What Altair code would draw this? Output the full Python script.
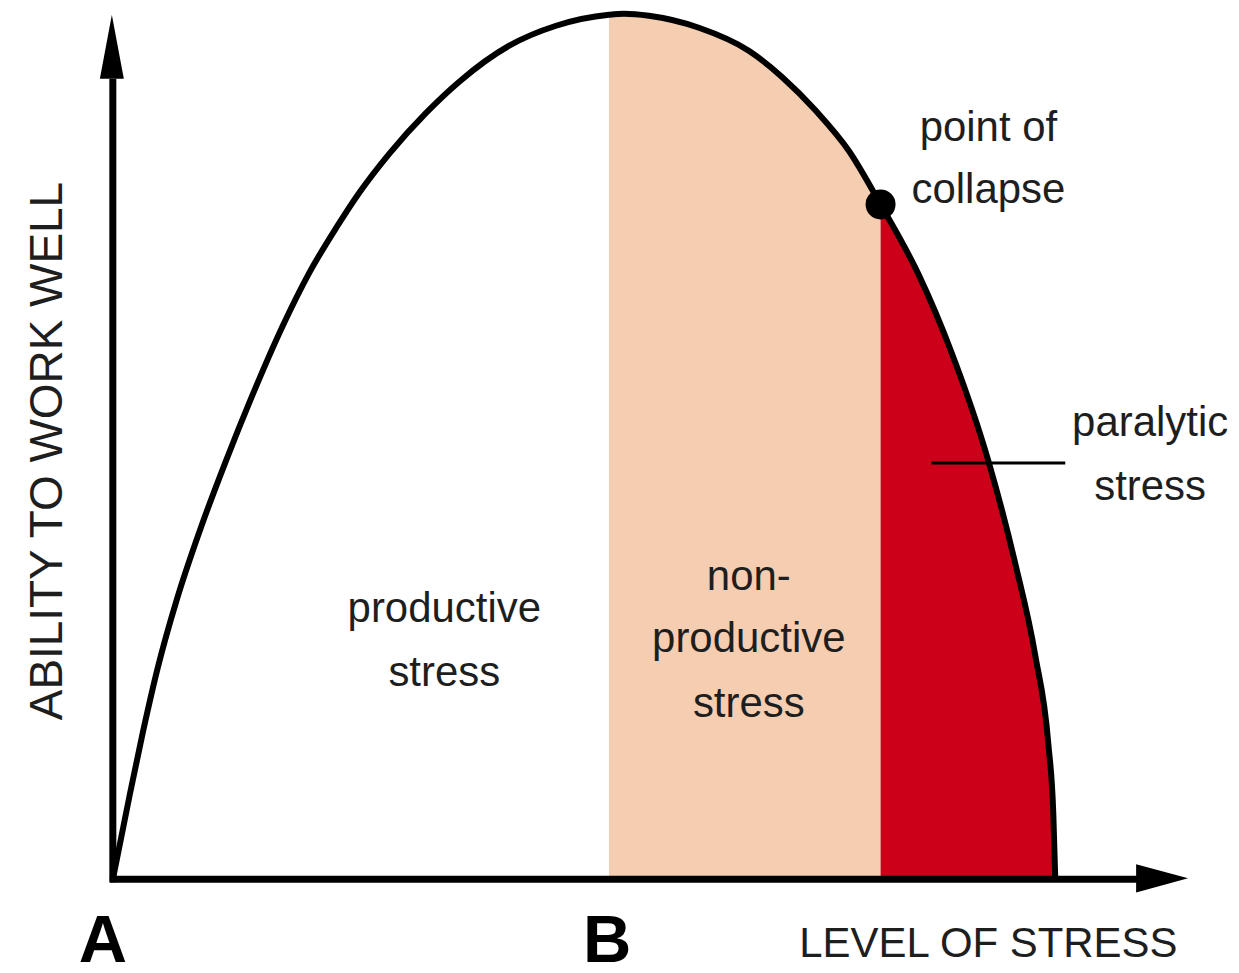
import altair as alt
import pandas as pd

# ---- curve (stress level vs ability to work well) ----
stress = [0, 17, 30, 45, 64, 87, 114, 139, 170, 197, 224, 247, 277, 314, 347, 397, 444,
          497, 512, 537, 587, 637, 670, 704, 737, 769, 807, 840, 877, 904, 924, 937, 942, 944]
ability = [0, 85, 147, 212, 280, 349, 421, 483, 554, 608, 653, 688, 727, 768, 799, 835, 855,
           866, 867, 865, 853, 830, 804, 770, 730, 676, 606, 528, 419, 316, 224, 136, 66, 0]

B_STRESS = 497          # start of non-productive stress
COLLAPSE_STRESS = 769   # point of collapse
COLLAPSE_ABILITY = 676
END_STRESS = 944
Y_AXIS_TOP = 802
X_AXIS_END = 1027
Y_ARROW_TIP = 866
X_ARROW_TIP = 1077

curve = pd.DataFrame({"stress": stress, "ability": ability})
peach = curve[(curve.stress >= B_STRESS) & (curve.stress <= COLLAPSE_STRESS)]
red = curve[(curve.stress >= COLLAPSE_STRESS) & (curve.stress <= END_STRESS)]

xs = alt.Scale(domain=[-105, 1120], nice=False, zero=False)
ys = alt.Scale(domain=[-88, 872], nice=False, zero=False)

def X(f="stress"):
    return alt.X(f"{f}:Q", scale=xs, axis=None)

def Y(f="ability"):
    return alt.Y(f"{f}:Q", scale=ys, axis=None)

peach_area = alt.Chart(peach).mark_area(color="#F5CDB0", interpolate="monotone").encode(
    x=X(), y=Y(), y2=alt.datum(0))
red_area = alt.Chart(red).mark_area(color="#CC0018", interpolate="monotone").encode(
    x=X(), y=Y(), y2=alt.datum(0))

line = alt.Chart(curve).mark_line(color="black", strokeWidth=6, interpolate="monotone").encode(
    x=X(), y=Y())

axes_df = pd.DataFrame({
    "x": [0, -3], "x2": [0, X_AXIS_END], "y": [-3, 0], "y2": [Y_AXIS_TOP, 0]})
axes = alt.Chart(axes_df).mark_rule(color="black", strokeWidth=7).encode(
    x=X("x"), x2="x2:Q", y=Y("y"), y2="y2:Q")

up_arrow = alt.Chart(pd.DataFrame({"x": [-1], "y": [Y_ARROW_TIP - 32]})).mark_point(
    shape="M0,-1L0.375,1L-0.375,1Z", filled=True, color="black", opacity=1,
    size=64 * 64, strokeWidth=0).encode(x=X("x"), y=Y("y"))
right_arrow = alt.Chart(pd.DataFrame({"x": [X_ARROW_TIP - 26], "y": [1]})).mark_point(
    shape="M1,0L-1,0.54L-1,-0.54Z", filled=True, color="black", opacity=1,
    size=52 * 52, strokeWidth=0).encode(x=X("x"), y=Y("y"))

dot = alt.Chart(pd.DataFrame({"x": [COLLAPSE_STRESS], "y": [COLLAPSE_ABILITY]})).mark_point(
    shape="circle", filled=True, color="black", opacity=1, size=900).encode(
    x=X("x"), y=Y("y"))

leader = alt.Chart(pd.DataFrame({"x": [820], "x2": [954], "y": [417]})).mark_rule(
    color="black", strokeWidth=3).encode(x=X("x"), x2="x2:Q", y=Y("y"))

texts = pd.DataFrame({
    "x": [877, 877, 1039, 1039, 332, 332, 637, 637, 637, 877],
    "y": [740, 677, 444, 380, 258, 194, 290, 228, 163, -78],
    "t": ["point of", "collapse", "paralytic", "stress", "productive", "stress",
          "non-", "productive", "stress", "LEVEL OF STRESS"],
})
FONT = "Liberation Sans, Arial, sans-serif"
labels = alt.Chart(texts).mark_text(font=FONT, fontSize=42, color="#1e1e1e",
                                    align="center", baseline="alphabetic").encode(
    x=X("x"), y=Y("y"), text="t:N")

letters = alt.Chart(pd.DataFrame({"x": [-10, 495], "y": [-83, -83], "t": ["A", "B"]})).mark_text(
    font=FONT, fontSize=67, fontWeight="bold", color="black",
    align="center", baseline="alphabetic").encode(x=X("x"), y=Y("y"), text="t:N")

ytitle = alt.Chart(pd.DataFrame({"x": [-51], "y": [429], "t": ["ABILITY TO WORK WELL"]})).mark_text(
    font=FONT, fontSize=46, color="#1e1e1e", angle=270,
    align="center", baseline="alphabetic").encode(x=X("x"), y=Y("y"), text="t:N")

chart = alt.layer(peach_area, red_area, line, axes, up_arrow, right_arrow, dot, leader,
                  labels, letters, ytitle).properties(
    width=1225, height=960, autosize="none", padding=0
).configure_view(stroke=None)

chart.save("out.html", embed_options={"renderer": "svg", "actions": False})
